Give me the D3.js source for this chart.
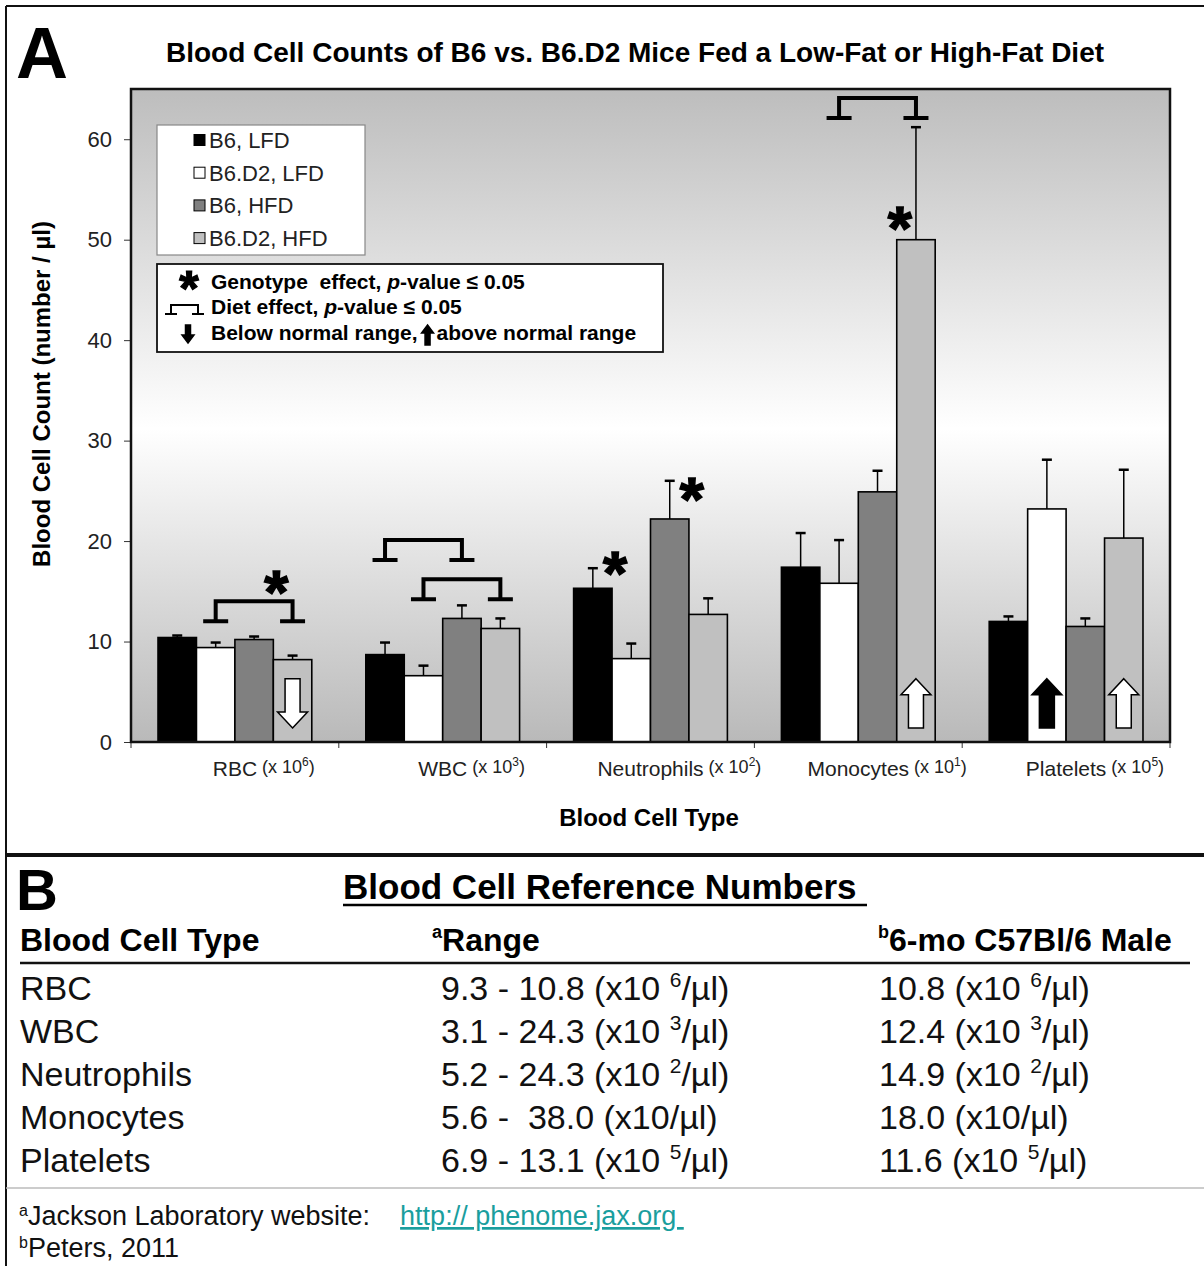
<!DOCTYPE html>
<html>
<head>
<meta charset="utf-8">
<script src="https://cdn.jsdelivr.net/npm/d3@7"></script>
<style>
  body { margin: 0; background: #fff; }
  text { font-family: "Liberation Sans", Arial, sans-serif; white-space: pre; }
</style>
</head>
<body>
<div id="chart"></div>
<script>
// categories and series
var categories = ["RBC", "WBC", "Neutrophils", "Monocytes", "Platelets"];
var catExponents = ["6", "3", "2", "1", "5"];
var seriesNames = ["B6, LFD", "B6.D2, LFD", "B6, HFD", "B6.D2, HFD"];
var seriesColors = ["#000000", "#ffffff", "#808080", "#c0c0c0"];

// means
var b6Lfd = [10.4, 8.7, 15.3, 17.4, 12.0];
var b6d2Lfd = [9.4, 6.6, 8.3, 15.8, 23.2];
var b6Hfd = [10.2, 12.3, 22.2, 24.9, 11.5];
var b6d2Hfd = [8.2, 11.3, 12.7, 50.0, 20.3];
// upper error bars
var b6LfdErr = [0.2, 1.2, 2.0, 3.4, 0.5];
var b6d2LfdErr = [0.5, 1.0, 1.5, 4.3, 4.9];
var b6HfdErr = [0.3, 1.3, 3.8, 2.1, 0.8];
var b6d2HfdErr = [0.4, 1.0, 1.6, 11.2, 6.8];

var yTicks = [0, 10, 20, 30, 40, 50, 60];

// diet effect brackets (series index from -> to, top of bracket)
var dietCat = ["RBC", "WBC", "WBC", "Monocytes"];
var dietFrom = [1, 0, 1, 1];
var dietTo = [3, 2, 3, 3];
var dietTop = [14.0, 20.1, 16.2, 64.1];

// genotype stars (placed at the right edge of a series bar)
var starCat = ["RBC", "Neutrophils", "Neutrophils", "Monocytes"];
var starSeries = [2, 0, 2, 2];
var starY = [15.9, 17.8, 25.1, 52.1];

// normal range arrows
var arrowCat = ["RBC", "Monocytes", "Platelets", "Platelets"];
var arrowSeries = [3, 3, 1, 3];
var arrowDir = ["down", "up", "up", "up"];
var arrowFill = ["#ffffff", "#ffffff", "#000000", "#ffffff"];
var arrowRange = [1.4, 6.3];

// panel B table
var refTypes = ["RBC", "WBC", "Neutrophils", "Monocytes", "Platelets"];
var refRange = ["9.3 - 10.8", "3.1 - 24.3", "5.2 - 24.3", "5.6 -  38.0", "6.9 - 13.1"];
var refMale = ["10.8", "12.4", "14.9", "18.0", "11.6"];
var refExp = ["6", "3", "2", "", "5"];

var values = [b6Lfd, b6d2Lfd, b6Hfd, b6d2Hfd];
var errs = [b6LfdErr, b6d2LfdErr, b6HfdErr, b6d2HfdErr];
var barData = [];
for (var c = 0; c < categories.length; c++) {
    for (var s = 0; s < seriesNames.length; s++) {
        barData.push({ cat: categories[c], s: s, value: values[s][c], err: errs[s][c] });
    }
}

var W = 1204, H = 1266;
var svg = d3.select("#chart").append("svg").attr("width", W).attr("height", H);
svg.append("rect").attr("width", W).attr("height", H).attr("fill", "#fff");

var plot = { left: 131, right: 1170, top: 89, bottom: 742 };

var x = d3.scaleBand().domain(categories).range([plot.left, plot.right])
    .paddingInner(0.26).paddingOuter(0.13);
var xs = d3.scaleBand().domain([0, 1, 2, 3]).range([0, x.bandwidth()]);
var y = d3.scaleLinear().domain([0, 65]).range([plot.bottom, plot.top]);

// outer frame
svg.append("line").attr("x1", 6).attr("x2", 6).attr("y1", 6).attr("y2", H)
    .attr("stroke", "#111").attr("stroke-width", 2);
svg.append("line").attr("x1", 6).attr("x2", W).attr("y1", 6).attr("y2", 6)
    .attr("stroke", "#111").attr("stroke-width", 2);
svg.append("line").attr("x1", 6).attr("x2", W).attr("y1", 855).attr("y2", 855)
    .attr("stroke", "#111").attr("stroke-width", 4);

// panel A
svg.append("text").attr("x", 16).attr("y", 78).attr("font-size", 72)
    .attr("font-weight", "bold").text("A");
svg.append("text").attr("x", 635).attr("y", 62).attr("text-anchor", "middle")
    .attr("font-size", 28).attr("font-weight", "bold")
    .text("Blood Cell Counts of B6 vs. B6.D2 Mice Fed a Low-Fat or High-Fat Diet");

var defs = svg.append("defs");
var grad = defs.append("linearGradient").attr("id", "bg").attr("x1", 0).attr("x2", 0).attr("y1", 0).attr("y2", 1);
grad.append("stop").attr("offset", "0%").attr("stop-color", "#bdbdbd");
grad.append("stop").attr("offset", "52%").attr("stop-color", "#ffffff");
grad.append("stop").attr("offset", "100%").attr("stop-color", "#b9b9b9");

svg.append("rect").attr("x", plot.left).attr("y", plot.top)
    .attr("width", plot.right - plot.left).attr("height", plot.bottom - plot.top)
    .attr("fill", "url(#bg)");

// y axis
var yAxis = svg.append("g").attr("transform", "translate(" + plot.left + ",0)")
    .call(d3.axisLeft(y).tickValues(yTicks).tickSize(7).tickPadding(12));
yAxis.select(".domain").remove();
yAxis.selectAll("text").attr("font-size", 22).attr("fill", "#222")
    .attr("font-family", "Liberation Sans, Arial, sans-serif");
yAxis.selectAll("line").attr("stroke", "#333");

// x axis ticks at category boundaries
var step = x.step();
var bounds = categories.map(function (d) { return x(d) - (step - x.bandwidth()) / 2; });
bounds.push(plot.right);
svg.append("g").selectAll("line").data(bounds).enter().append("line")
    .attr("x1", function (d) { return d; }).attr("x2", function (d) { return d; })
    .attr("y1", plot.bottom).attr("y2", plot.bottom + 6)
    .attr("stroke", "#333").attr("stroke-width", 1);

// bars
svg.append("g").selectAll("rect").data(barData).enter().append("rect")
    .attr("x", function (d) { return x(d.cat) + xs(d.s); })
    .attr("y", function (d) { return y(d.value); })
    .attr("width", xs.bandwidth())
    .attr("height", function (d) { return y(0) - y(d.value); })
    .attr("fill", function (d) { return seriesColors[d.s]; })
    .attr("stroke", "#000").attr("stroke-width", 1.6);

// error bars (upper only)
var eb = svg.append("g").attr("stroke", "#000");
eb.selectAll("line.v").data(barData).enter().append("line").attr("class", "v")
    .attr("x1", function (d) { return x(d.cat) + xs(d.s) + xs.bandwidth() / 2; })
    .attr("x2", function (d) { return x(d.cat) + xs(d.s) + xs.bandwidth() / 2; })
    .attr("y1", function (d) { return y(d.value); })
    .attr("y2", function (d) { return y(d.value + d.err); })
    .attr("stroke-width", 1.5);
eb.selectAll("line.c").data(barData).enter().append("line").attr("class", "c")
    .attr("x1", function (d) { return x(d.cat) + xs(d.s) + xs.bandwidth() / 2 - 5; })
    .attr("x2", function (d) { return x(d.cat) + xs(d.s) + xs.bandwidth() / 2 + 5; })
    .attr("y1", function (d) { return y(d.value + d.err); })
    .attr("y2", function (d) { return y(d.value + d.err); })
    .attr("stroke-width", 2.5);

// plot border
svg.append("rect").attr("x", plot.left).attr("y", plot.top)
    .attr("width", plot.right - plot.left).attr("height", plot.bottom - plot.top)
    .attr("fill", "none").attr("stroke", "#111").attr("stroke-width", 2.5);

function subCenter(cat, s) { return x(cat) + xs(s) + xs.bandwidth() / 2; }

// brackets
function bracket(g, xl, xr, yt, drop, foot, sw) {
    var p = "M" + xl + "," + (yt + drop) + "V" + yt + "H" + xr + "V" + (yt + drop) +
        "M" + (xl - foot) + "," + (yt + drop) + "H" + (xl + foot) +
        "M" + (xr - foot) + "," + (yt + drop) + "H" + (xr + foot);
    g.append("path").attr("d", p).attr("fill", "none").attr("stroke", "#000").attr("stroke-width", sw);
}
var bg = svg.append("g");
for (var i = 0; i < dietCat.length; i++) {
    bracket(bg, subCenter(dietCat[i], dietFrom[i]), subCenter(dietCat[i], dietTo[i]), y(dietTop[i]), 20, 12.5, 4);
}

// stars
function star(g, cx, cy, size) {
    g.append("text").attr("x", cx).attr("y", cy + size * 0.49).attr("text-anchor", "middle")
        .attr("font-size", size).attr("font-weight", "bold")
        .attr("stroke", "#000").attr("stroke-width", size / 40).text("*");
}
var sg = svg.append("g");
for (var i = 0; i < starCat.length; i++) {
    star(sg, x(starCat[i]) + xs(starSeries[i]) + xs.bandwidth() + 3, y(starY[i]), 62);
}

// block arrows
function arrow(g, cx, yTop, yBot, dir, fill, hw, sw2, hl) {
    var p;
    if (dir === "up") {
        p = "M" + cx + "," + yTop + "L" + (cx + hw) + "," + (yTop + hl) + "H" + (cx + sw2) +
            "V" + yBot + "H" + (cx - sw2) + "V" + (yTop + hl) + "H" + (cx - hw) + "Z";
    } else {
        p = "M" + cx + "," + yBot + "L" + (cx + hw) + "," + (yBot - hl) + "H" + (cx + sw2) +
            "V" + yTop + "H" + (cx - sw2) + "V" + (yBot - hl) + "H" + (cx - hw) + "Z";
    }
    g.append("path").attr("d", p).attr("fill", fill).attr("stroke", "#000").attr("stroke-width", 1.5);
}
var ag = svg.append("g");
for (var i = 0; i < arrowCat.length; i++) {
    arrow(ag, subCenter(arrowCat[i], arrowSeries[i]), y(arrowRange[1]), y(arrowRange[0]),
        arrowDir[i], arrowFill[i], 15, 7.5, 16);
}

// x labels
categories.forEach(function (cat, i) {
    var cx = x(cat) + x.bandwidth() / 2;
    var t = svg.append("text").attr("x", cx).attr("y", 776).attr("text-anchor", "middle")
        .attr("font-size", 21).attr("fill", "#222").text(cat);
    var w = t.node().getComputedTextLength();
    var t2 = svg.append("text").attr("x", cx + w / 2 + 5).attr("y", 773).attr("font-size", 18).attr("fill", "#222");
    t2.append("tspan").text("(x 10");
    t2.append("tspan").attr("font-size", 12).attr("dy", -7).text(catExponents[i]);
    t2.append("tspan").attr("dy", 7).text(")");
});
svg.append("text").attr("x", 649).attr("y", 826).attr("text-anchor", "middle")
    .attr("font-size", 24).attr("font-weight", "bold").text("Blood Cell Type");
svg.append("text").attr("transform", "translate(50,394) rotate(-90)").attr("text-anchor", "middle")
    .attr("font-size", 24).attr("font-weight", "bold").text("Blood Cell Count (number / \u00b5l)");

// legend 1
var lg = svg.append("g");
lg.append("rect").attr("x", 157).attr("y", 125).attr("width", 208).attr("height", 130)
    .attr("fill", "#fff").attr("stroke", "#888").attr("stroke-width", 1.2);
seriesNames.forEach(function (n, i) {
    var cy = 140 + i * 32.7;
    lg.append("rect").attr("x", 194).attr("y", cy - 5.5).attr("width", 11).attr("height", 11)
        .attr("fill", seriesColors[i]).attr("stroke", "#000").attr("stroke-width", 1);
    lg.append("text").attr("x", 209).attr("y", cy + 8).attr("font-size", 22).attr("fill", "#222").text(n);
});

// legend 2
var lg2 = svg.append("g");
lg2.append("rect").attr("x", 157).attr("y", 264).attr("width", 506).attr("height", 88)
    .attr("fill", "#fff").attr("stroke", "#111").attr("stroke-width", 1.8);
star(lg2, 189, 281, 50);
var l1 = lg2.append("text").attr("x", 211).attr("y", 289).attr("font-size", 21).attr("font-weight", "bold");
l1.append("tspan").text("Genotype  effect, ");
l1.append("tspan").attr("font-style", "italic").text("p");
l1.append("tspan").text("-value \u2264 0.05");
bracket(lg2, 171, 198, 305, 9, 6, 2);
var l2 = lg2.append("text").attr("x", 211).attr("y", 314).attr("font-size", 21).attr("font-weight", "bold");
l2.append("tspan").text("Diet effect, ");
l2.append("tspan").attr("font-style", "italic").text("p");
l2.append("tspan").text("-value \u2264 0.05");
arrow(lg2, 188, 325, 343, "down", "#000", 6, 2.5, 8);
var l3 = lg2.append("text").attr("x", 211).attr("y", 340).attr("font-size", 21).attr("font-weight", "bold")
    .text("Below normal range,");
var l3w = l3.node().getComputedTextLength();
arrow(lg2, 211 + l3w + 10, 325, 345, "up", "#000", 6, 2.5, 8);
lg2.append("text").attr("x", 211 + l3w + 19).attr("y", 340).attr("font-size", 21).attr("font-weight", "bold")
    .text("above normal range");

// panel B
svg.append("text").attr("x", 16).attr("y", 910).attr("font-size", 58).attr("font-weight", "bold").text("B");
svg.append("text").attr("x", 343).attr("y", 899).attr("font-size", 35).attr("font-weight", "bold")
    .text("Blood Cell Reference Numbers");
svg.append("line").attr("x1", 343).attr("x2", 867).attr("y1", 905).attr("y2", 905)
    .attr("stroke", "#000").attr("stroke-width", 2.5);

svg.append("text").attr("x", 20).attr("y", 951).attr("font-size", 32).attr("font-weight", "bold").text("Blood Cell Type");
var h2 = svg.append("text").attr("x", 432).attr("y", 951).attr("font-size", 32).attr("font-weight", "bold");
h2.append("tspan").attr("font-size", 18).attr("dy", -13).text("a");
h2.append("tspan").attr("dy", 13).text("Range");
var h3 = svg.append("text").attr("x", 878).attr("y", 951).attr("font-size", 32).attr("font-weight", "bold");
h3.append("tspan").attr("font-size", 18).attr("dy", -13).text("b");
h3.append("tspan").attr("dy", 13).text("6-mo C57Bl/6 Male");
svg.append("line").attr("x1", 20).attr("x2", 1190).attr("y1", 963).attr("y2", 963)
    .attr("stroke", "#111").attr("stroke-width", 2.5);

function unitText(xp, yp, num, ex) {
    var t = svg.append("text").attr("x", xp).attr("y", yp).attr("font-size", 34).attr("fill", "#111");
    if (ex) {
        t.append("tspan").text(num + " (x10 ");
        t.append("tspan").attr("font-size", 21).attr("dy", -13).text(ex);
        t.append("tspan").attr("dy", 13).text("/\u00b5l)");
    } else {
        t.append("tspan").text(num + " (x10/\u00b5l)");
    }
}
refTypes.forEach(function (r, i) {
    var yp = 1000 + i * 43;
    svg.append("text").attr("x", 20).attr("y", yp).attr("font-size", 34).attr("fill", "#111").text(r);
    unitText(441, yp, refRange[i], refExp[i]);
    unitText(879, yp, refMale[i], refExp[i]);
});

svg.append("line").attr("x1", 6).attr("x2", W).attr("y1", 1188).attr("y2", 1188)
    .attr("stroke", "#bbb").attr("stroke-width", 1.5);

var f1 = svg.append("text").attr("x", 19).attr("y", 1225).attr("font-size", 27).attr("fill", "#111");
f1.append("tspan").attr("font-size", 16).attr("dy", -9).text("a");
f1.append("tspan").attr("dy", 9).text("Jackson Laboratory website:    ");
f1.append("tspan").attr("fill", "#1a9e9e").attr("text-decoration", "underline").text("http:// phenome.jax.org ");
var f2 = svg.append("text").attr("x", 19).attr("y", 1257).attr("font-size", 27).attr("fill", "#111");
f2.append("tspan").attr("font-size", 16).attr("dy", -9).text("b");
f2.append("tspan").attr("dy", 9).text("Peters, 2011");
</script>
</body>
</html>
